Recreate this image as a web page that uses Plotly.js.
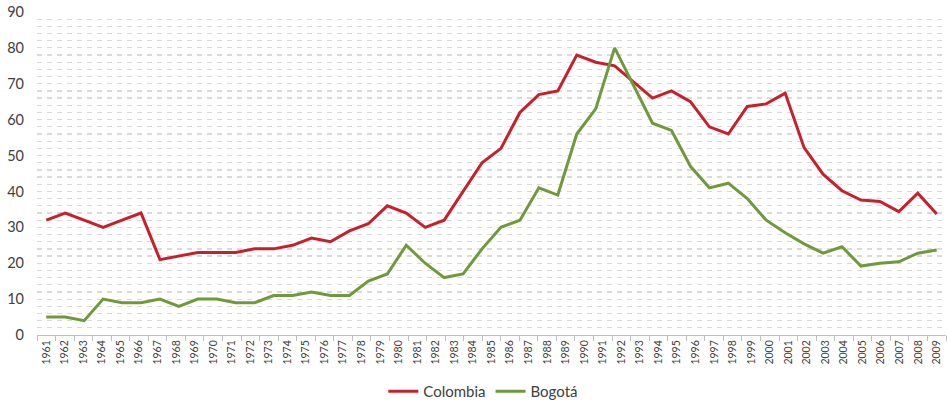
<!DOCTYPE html>
<html>
<head>
<meta charset="utf-8">
<script src="https://cdn.plot.ly/plotly-3.0.1.min.js"></script>
<style>
  html, body { margin: 0; padding: 0; background: #ffffff; }
  #chart { width: 947px; height: 401px; }
</style>
</head>
<body>
<div id="chart"></div>
<script>
// Category labels on the x axis (49 years)
const years = ["1961","1962","1963","1964","1965","1966","1967","1968","1969","1970",
  "1971","1972","1973","1974","1975","1976","1977","1978","1979","1980",
  "1981","1982","1983","1984","1985","1986","1987","1988","1989","1990",
  "1991","1992","1993","1994","1995","1996","1997","1998","1999","2000",
  "2001","2002","2003","2004","2005","2006","2007","2008","2009"];

// Series values (48 plotted points each, spread across the full axis as in the source)
const colombia = [32, 34, 32, 30, 32, 34, 21, 22, 23, 23,
  23, 24, 24, 25, 27, 26, 29, 31, 36, 34,
  30, 32, 40, 48, 52, 62, 67, 68, 78, 76,
  75, 70.5, 66, 68, 65, 58, 56, 63.7, 64.4, 67.4,
  52.2, 44.8, 40.2, 37.6, 37.2, 34.4, 39.5, 33.7];

const bogota = [5, 5, 4, 10, 9, 9, 10, 8, 10, 10,
  9, 9, 11, 11, 12, 11, 11, 15, 17, 25,
  20, 16, 17, 24, 30, 32, 41, 39, 56, 63,
  80, 69.5, 59, 57, 47, 41, 42.3, 38, 32, 28.5,
  25.4, 22.8, 24.6, 19.2, 20, 20.4, 22.8, 23.7];

const seriesNames = ["Colombia", "Bogotá"];
const seriesColors = ["#c8202b", "#6f9a3b"];

const pointIndex = colombia.map((_, i) => i);
const nPts = colombia.length;
const nCats = years.length;
// x2 axis range chosen so the first and last points sit on the first and last categories
const span = (nPts - 1) / (nCats - 1);

const font = "Lato, 'Liberation Sans', Arial, sans-serif";

const traces = [
  {
    x: years, y: years.map(() => null), xaxis: "x", yaxis: "y",
    type: "scatter", mode: "lines", showlegend: false, hoverinfo: "skip",
    line: { width: 0 }
  },
  {
    x: pointIndex, y: colombia, xaxis: "x2", yaxis: "y",
    type: "scatter", mode: "lines", name: seriesNames[0],
    line: { color: seriesColors[0], width: 3 }
  },
  {
    x: pointIndex, y: bogota, xaxis: "x2", yaxis: "y",
    type: "scatter", mode: "lines", name: seriesNames[1],
    line: { color: seriesColors[1], width: 3 }
  }
];

const layout = {
  width: 947, height: 401,
  margin: { l: 37, r: 1, t: 12, b: 66, autoexpand: false },
  paper_bgcolor: "#ffffff", plot_bgcolor: "#ffffff",
  font: { family: font, color: "#404040" },
  showlegend: true,
  legend: {
    orientation: "h", x: 0.491, xanchor: "center", y: -0.175, yanchor: "middle",
    font: { size: 15, color: "#404040", family: font },
    itemwidth: 30, tracegroupgap: 0
  },
  xaxis: {
    type: "category", categoryorder: "array", categoryarray: years,
    range: [-0.5, nCats - 0.5], automargin: false,
    tickson: "boundaries", ticks: "outside", ticklen: 5, tickcolor: "#bfbfbf", tickwidth: 1,
    showline: true, linecolor: "#bfbfbf", linewidth: 1,
    showgrid: false, zeroline: false,
    tickangle: -90, tickfont: { size: 10.5, color: "#404040", family: font },
    fixedrange: true
  },
  xaxis2: {
    overlaying: "x", type: "linear",
    range: [-0.5 * span, (nPts - 1) + 0.5 * span],
    visible: false, showgrid: false, zeroline: false, fixedrange: true
  },
  yaxis: {
    range: [0, 90], dtick: 10, tick0: 0, automargin: false,
    showgrid: true, gridcolor: "#d9d9d9", gridwidth: 1, griddash: "5px,5px",
    minor: { dtick: 2, tick0: 0, showgrid: true, gridcolor: "#dadada", gridwidth: 1.3 },
    zeroline: false, showline: false, ticks: "",
    tickfont: { size: 14.5, color: "#404040", family: font },
    ticklabelstandoff: 12,
    fixedrange: true
  }
};

Plotly.newPlot("chart", traces, layout, { displayModeBar: false, staticPlot: true });
</script>
</body>
</html>
